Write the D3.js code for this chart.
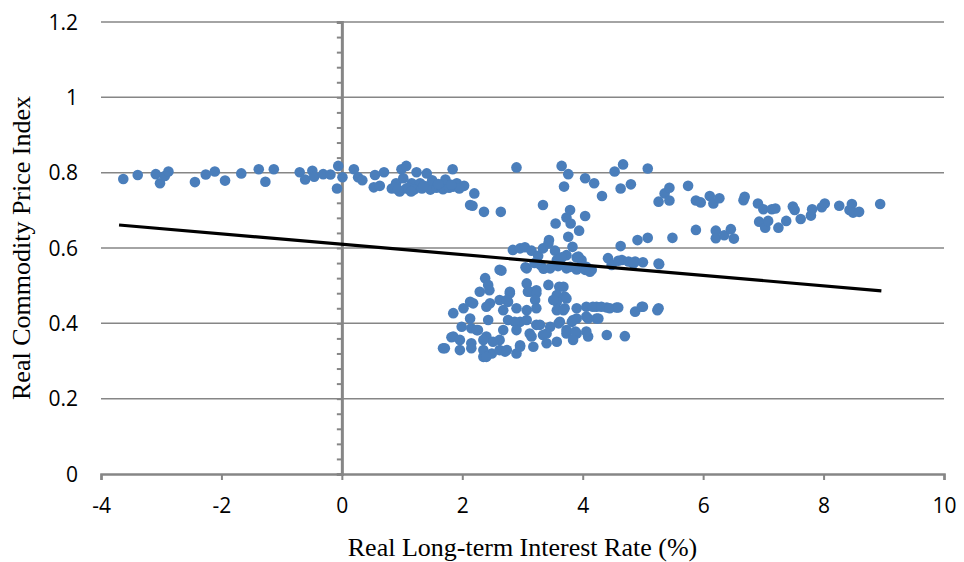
<!DOCTYPE html>
<html>
<head>
    <meta charset="utf-8">
    <title>Real Commodity Price Index vs Real Long-term Interest Rate</title>
    <script src="https://d3js.org/d3.v7.min.js"></script>
    <style>
        body { margin: 0; background: #fff; }
    </style>
</head>
<body>
    <div id="chart"></div>

    <script>
        var rates = [
            // negative rates, top band
            -3.63, -3.39, -3.09, -3.02, -2.94, -2.88, -2.44, -2.26, -2.11, -1.94, -1.67, -1.38,
            -1.27, -1.13, -0.70, -0.61, -0.49, -0.46, -0.31, -0.19, -0.06, -0.08, 0.01,
            // 0 to 2.6, top band
            0.20, 0.27, 0.34, 0.55, 0.53, 0.63, 0.70, 0.83, 0.90, 0.99, 1.07, 1.02, 0.96, 1.07,
            1.16, 1.24, 1.30, 1.41, 1.41, 1.52, 1.63, 1.74, 1.84, 1.85, 1.91, 2.03, 2.13, 2.20,
            2.17, 2.36, 2.64, 1.10, 1.20, 1.33, 1.47, 1.57, 1.68, 1.78, 1.95, 1.15, 1.50, 1.72,
            0.88, 0.93, 1.36, 1.60, 1.82,
            // 2.9 to 5.9, upper scatter
            2.90, 3.34, 3.55, 3.65, 3.76, 3.69, 3.73, 3.79, 3.80, 3.76, 3.94, 4.04, 4.04, 4.19,
            4.32, 4.53, 4.63, 4.67, 4.80, 5.08, 5.26, 5.36, 5.44, 5.44, 5.75, 5.88, 3.44,
            // high rates
            5.96, 6.11, 6.17, 6.27, 6.67, 6.69, 6.91, 7.00, 7.14, 7.20, 6.93, 7.03, 7.08, 7.25,
            7.38, 7.49, 7.52, 7.62, 7.79, 7.81, 7.97, 8.02, 8.26, 8.43, 8.47, 8.49, 8.59, 8.94,
            6.21, 6.21, 6.35, 6.46, 6.51, 5.88, 5.49, 5.08, 4.91, 4.63,
            // band near 0.55-0.6
            2.84, 2.96, 3.04, 3.15, 3.26, 3.34, 3.43, 3.54, 3.57, 3.73, 3.83, 3.90, 3.98, 3.59,
            3.46, 3.73, 3.90, 4.06, 4.15, 4.42, 4.48, 4.65, 4.76, 4.87, 5.00, 5.26, 2.62, 3.07,
            3.93, 4.04, 4.12, 3.79, 4.59, 4.84, 5.27, 3.20, 3.30, 3.65, 3.35,
            // band near 0.46-0.52
            3.07, 2.38, 2.43, 2.29, 2.79, 3.12, 3.23, 3.43, 3.61, 3.57, 2.45, 2.79, 3.09, 3.23,
            3.68, 3.70, 2.65, 3.05,
            // band near 0.40-0.47
            3.21, 3.23, 3.57, 3.73, 3.57, 3.70, 2.13, 2.02, 1.85, 2.46, 2.62, 2.76, 2.68, 2.90,
            3.07, 2.13, 2.43, 2.76, 2.96, 3.23, 3.60, 3.82, 3.90, 4.06, 4.23, 4.40, 4.56, 4.23,
            4.09, 4.87, 4.98, 5.26, 2.18, 2.40, 2.74, 3.51, 3.68, 2.87, 3.07, 3.29, 3.46, 3.62,
            3.90, 4.17, 4.31, 4.45, 4.59, 5.00, 5.24, 4.06, 4.26, 3.84,
            // bottom, 0.31-0.40
            4.40, 4.70, 1.82, 1.68, 1.96, 2.15, 2.35, 2.49, 2.71, 2.90, 2.96, 3.18, 2.62, 2.40,
            2.68, 2.90, 3.12, 3.40, 3.57, 3.73, 3.90, 4.09, 2.26, 1.99, 2.15, 2.24, 3.15, 3.34,
            1.85, 1.71, 2.15, 2.35, 2.51, 2.62, 2.74, 2.40, 2.96, 3.40, 1.96, 2.35, 3.73, 3.88,
            4.06, 3.84
        ];

        var prices = [
            0.783, 0.794, 0.796, 0.772, 0.791, 0.803, 0.775, 0.795, 0.803, 0.779, 0.798, 0.809,
            0.776, 0.809, 0.801, 0.782, 0.805, 0.789, 0.796, 0.795, 0.818, 0.758, 0.788,
            0.809, 0.788, 0.780, 0.794, 0.761, 0.765, 0.801, 0.758, 0.772, 0.809, 0.818, 0.785, 0.750, 0.758,
            0.772, 0.801, 0.772, 0.798, 0.763, 0.772, 0.767, 0.772, 0.809, 0.763, 0.772, 0.765, 0.714, 0.745,
            0.712, 0.696, 0.696, 0.760, 0.755, 0.758, 0.755, 0.760, 0.756, 0.760, 0.758, 0.750, 0.780, 0.782,
            0.760, 0.755, 0.765, 0.770, 0.768,
            0.814, 0.714, 0.665, 0.818, 0.796, 0.763, 0.681, 0.701, 0.665, 0.630, 0.646, 0.785, 0.685, 0.772,
            0.738, 0.803, 0.758, 0.822, 0.769, 0.811, 0.723, 0.745, 0.760, 0.726, 0.765, 0.726, 0.621,
            0.721, 0.738, 0.718, 0.732, 0.727, 0.736, 0.718, 0.703, 0.703, 0.705, 0.670, 0.654, 0.672, 0.654,
            0.672, 0.710, 0.701, 0.677, 0.686, 0.703, 0.708, 0.718, 0.712, 0.701, 0.717, 0.694, 0.696, 0.717,
            0.646, 0.626, 0.634, 0.650, 0.625, 0.648, 0.627, 0.627, 0.621, 0.605,
            0.595, 0.599, 0.602, 0.593, 0.579, 0.599, 0.612, 0.593, 0.568, 0.581, 0.603, 0.575, 0.568, 0.552,
            0.546, 0.546, 0.543, 0.550, 0.542, 0.573, 0.555, 0.568, 0.564, 0.564, 0.562, 0.559, 0.542, 0.546,
            0.577, 0.542, 0.537, 0.550, 0.566, 0.559, 0.557, 0.560, 0.555, 0.575, 0.545,
            0.506, 0.520, 0.502, 0.484, 0.484, 0.484, 0.488, 0.502, 0.497, 0.475, 0.488, 0.480, 0.484, 0.480,
            0.497, 0.471, 0.540, 0.549,
            0.462, 0.440, 0.457, 0.466, 0.435, 0.440, 0.457, 0.440, 0.427, 0.453, 0.462, 0.457, 0.435, 0.440,
            0.435, 0.413, 0.409, 0.409, 0.404, 0.396, 0.400, 0.404, 0.413, 0.444, 0.444, 0.442, 0.442, 0.413,
            0.413, 0.431, 0.444, 0.440, 0.453, 0.444, 0.462, 0.462, 0.435, 0.404, 0.409, 0.396, 0.391, 0.404,
            0.440, 0.444, 0.444, 0.440, 0.442, 0.444, 0.435, 0.418, 0.413, 0.409,
            0.369, 0.366, 0.363, 0.334, 0.329, 0.347, 0.311, 0.320, 0.325, 0.320, 0.342, 0.338, 0.356, 0.365,
            0.382, 0.382, 0.373, 0.373, 0.351, 0.373, 0.373, 0.365, 0.382, 0.391, 0.387, 0.382, 0.365, 0.369,
            0.365, 0.334, 0.334, 0.329, 0.351, 0.329, 0.329, 0.311, 0.338, 0.347, 0.356, 0.356, 0.382, 0.378,
            0.378, 0.356
        ];

        // linear trend line
        var trendIntercept = 0.610;
        var trendSlope = -0.0138;

        var xTicks = [-4, -2, 0, 2, 4, 6, 8, 10];
        var yTicks = [0, 0.2, 0.4, 0.6, 0.8, 1, 1.2];
        var yMinorStep = 0.04;

        var points = rates.map(function(r, i) { return { x: r, y: prices[i] }; });

        var width = 964;
        var height = 562;
        var margin = { top: 22, right: 20, bottom: 88, left: 101 };

        var svg = d3.select("#chart")
            .append("svg")
            .attr("width", width)
            .attr("height", height);

        var xScale = d3.scaleLinear()
            .domain([-4, 10])
            .range([margin.left, width - margin.right]);

        var yScale = d3.scaleLinear()
            .domain([0, 1.2])
            .range([height - margin.bottom, margin.top]);

        var axisGrey = "#868686";

        // horizontal grid lines
        svg.append("g")
            .selectAll("line")
            .data(yTicks.filter(function(d) { return d > 0; }))
            .enter()
            .append("line")
            .attr("x1", xScale(-4))
            .attr("x2", xScale(10))
            .attr("y1", function(d) { return yScale(d); })
            .attr("y2", function(d) { return yScale(d); })
            .attr("stroke", axisGrey)
            .attr("stroke-width", 1.5);

        // y tick labels on the left edge
        svg.append("g")
            .selectAll("text")
            .data(yTicks)
            .enter()
            .append("text")
            .attr("x", xScale(-4) - 23)
            .attr("y", function(d) { return yScale(d); })
            .attr("dy", "0.36em")
            .attr("text-anchor", "end")
            .attr("font-family", "Open Sans, sans-serif")
            .attr("font-size", 21)
            .attr("fill", "#000")
            .text(function(d) { return String(d); });

        // bottom axis
        var xAxis = svg.append("g")
            .attr("transform", "translate(0," + yScale(0) + ")")
            .call(d3.axisBottom(xScale).tickValues(xTicks).tickSize(6)
                .tickFormat(function(d) { return String(d); }));
        xAxis.select(".domain").attr("stroke", axisGrey).attr("stroke-width", 2.5);
        xAxis.selectAll(".tick line").attr("stroke", axisGrey).attr("stroke-width", 2);
        xAxis.selectAll(".tick text")
            .attr("y", 24)
            .attr("font-family", "Open Sans, sans-serif")
            .attr("font-size", 21)
            .attr("fill", "#000");

        // vertical axis crossing at x = 0, with minor ticks
        var yMinor = d3.range(0, 1.2 + 1e-9, yMinorStep);
        var yAxis = svg.append("g")
            .attr("transform", "translate(" + xScale(0) + ",0)")
            .call(d3.axisLeft(yScale).tickValues(yMinor).tickSize(5).tickFormat(""));
        yAxis.select(".domain").attr("stroke", axisGrey).attr("stroke-width", 3);
        yAxis.selectAll(".tick line").attr("stroke", axisGrey).attr("stroke-width", 2);

        // scatter points
        svg.append("g")
            .selectAll("circle")
            .data(points)
            .enter()
            .append("circle")
            .attr("cx", function(d) { return xScale(d.x); })
            .attr("cy", function(d) { return yScale(d.y); })
            .attr("r", 5.3)
            .attr("fill", "#4a7ebb");

        // trend line
        var xExtent = d3.extent(rates);
        var trendX = [xExtent[0] - 0.07, xExtent[1] + 0.02];
        svg.append("line")
            .attr("x1", xScale(trendX[0]))
            .attr("y1", yScale(trendIntercept + trendSlope * trendX[0]))
            .attr("x2", xScale(trendX[1]))
            .attr("y2", yScale(trendIntercept + trendSlope * trendX[1]))
            .attr("stroke", "#000")
            .attr("stroke-width", 3.2);

        // axis titles
        svg.append("text")
            .attr("x", (xScale(-4) + xScale(10)) / 2)
            .attr("y", 556)
            .attr("text-anchor", "middle")
            .attr("font-family", "Liberation Serif, Times New Roman, serif")
            .attr("font-size", 26)
            .text("Real Long-term Interest Rate (%)");

        svg.append("text")
            .attr("transform", "translate(30," + yScale(0.6) + ") rotate(-90)")
            .attr("text-anchor", "middle")
            .attr("font-family", "Liberation Serif, Times New Roman, serif")
            .attr("font-size", 26)
            .text("Real Commodity Price Index");
    </script>
</body>
</html>
